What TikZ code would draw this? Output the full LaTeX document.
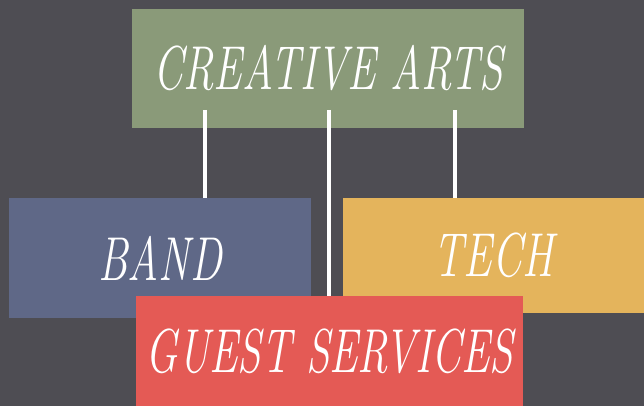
\documentclass[tikz,border=0pt]{standalone}
\usepackage{tikz}
\usepackage{graphicx}
\usepackage{xcolor}
\definecolor{bgdark}{HTML}{4E4D53}
\definecolor{artsgreen}{HTML}{8A9A79}
\definecolor{bandblue}{HTML}{5F6887}
\definecolor{techgold}{HTML}{E4B45C}
\definecolor{guestred}{HTML}{E45A55}
\newcommand{\tallcaps}[1]{\scalebox{1.07}[1.55]{#1}}

\begin{document}
\begin{tikzpicture}[x=1pt,y=1pt]
	\tikzstyle{team} = [rectangle, inner sep=0pt, text=white, font=\fontsize{40}{48}\selectfont\itshape]
\tikzstyle{line} = [white, line width=4pt]
\fill[bgdark] (0,0) rectangle (644,406);
\useasboundingbox (0,0) rectangle (644,406);
\node(arts)[team, fill=artsgreen, minimum width=392pt, minimum height=119pt] at (328,337.5) {\tallcaps{CREATIVE ARTS}};
\coordinate (a1) at (205,296);
\coordinate (a2) at (329,296);
\coordinate (a3) at (455,296);
\node(band)[team, fill=bandblue, minimum width=302pt, minimum height=120pt] at (160,148) {\tallcaps{BAND}};
\node(tech)[team, fill=techgold, minimum width=301pt, minimum height=115pt] at (493.5,150.5) {\tallcaps{TECH}};
\node(guest)[team, fill=guestred, minimum width=387pt, minimum height=110pt] at (329.5,55) {\tallcaps{GUEST SERVICES}};
\draw[line] (a1) -- (band.north -| a1);
\draw[line] (a2) -- (guest.north -| a2);
\draw[line] (a3) -- (tech.north -| a3);
  \end{tikzpicture}
\end{document}
